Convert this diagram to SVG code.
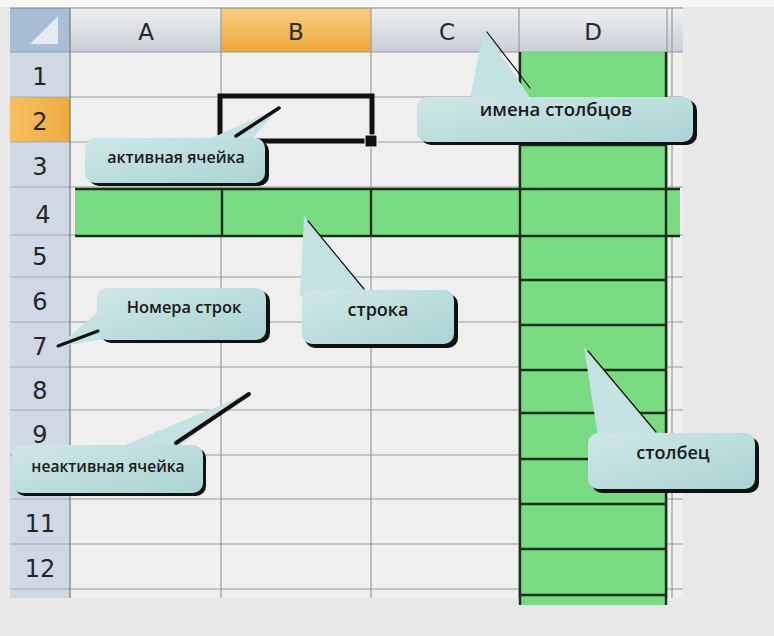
<svg xmlns="http://www.w3.org/2000/svg" width="774" height="636" viewBox="0 0 774 636">
<defs>
<linearGradient id="hdr" x1="0" y1="0" x2="0" y2="1"><stop offset="0" stop-color="#eef0f3"/><stop offset="1" stop-color="#c9ced6"/></linearGradient>
<linearGradient id="hdrSel" x1="0" y1="0" x2="0" y2="1"><stop offset="0" stop-color="#f8cf80"/><stop offset="1" stop-color="#eea93c"/></linearGradient>
<linearGradient id="rowSel" x1="0" y1="0" x2="1" y2="0"><stop offset="0" stop-color="#f6c060"/><stop offset="1" stop-color="#efaa40"/></linearGradient>
<linearGradient id="call" x1="0" y1="0" x2="1" y2="1"><stop offset="0" stop-color="#cfe7e6"/><stop offset="1" stop-color="#aad4d4"/></linearGradient>
<style>
.grid{stroke:#9a9a9a;stroke-width:1.2;fill:none}
.rh{stroke:#9eabbb;stroke-width:1.2}
.dk{stroke:#1b2d1b;stroke-width:2.4;fill:none}
.num{font-family:"DejaVu Sans","Liberation Sans",sans-serif;font-size:24px;fill:#262626;text-anchor:middle}
.col{font-family:"DejaVu Sans","Liberation Sans",sans-serif;font-size:23px;fill:#2a2a2a;text-anchor:middle}
.lbl{font-family:"Open Sans","DejaVu Sans",sans-serif;font-weight:600;fill:#1a1a1a;text-anchor:middle}
.shadow{fill:#111}
.body{fill:url(#call)}
.ptr{fill:#c3e2e1}
.pl{stroke:#111;fill:none;stroke-linecap:round}
</style>
</defs>
<rect width="774" height="636" fill="#e8e8e8"/>
<rect width="774" height="7" fill="#f6f6f6"/>
<g id="sheet">
<rect x="70" y="52" width="613" height="546" fill="#efefef"/>
<rect x="10" y="8" width="673" height="44" fill="url(#hdr)"/>
<rect x="221" y="8" width="150" height="44" fill="url(#hdrSel)"/>
<rect x="10" y="8" width="60" height="44" fill="#a9bdd6"/>
<polygon points="58,16 58,44 30,44" fill="#e4ebf3"/>
<rect x="10" y="52" width="60" height="546" fill="#cfd9e5"/>
<rect x="10" y="97" width="60" height="45" fill="url(#rowSel)"/>
<g class="rh">
<line x1="10" y1="97" x2="70" y2="97"/><line x1="10" y1="142" x2="70" y2="142"/><line x1="10" y1="187" x2="70" y2="187"/><line x1="10" y1="235" x2="70" y2="235"/><line x1="10" y1="277" x2="70" y2="277"/><line x1="10" y1="322" x2="70" y2="322"/><line x1="10" y1="367" x2="70" y2="367"/><line x1="10" y1="410" x2="70" y2="410"/><line x1="10" y1="455" x2="70" y2="455"/><line x1="10" y1="499" x2="70" y2="499"/><line x1="10" y1="544" x2="70" y2="544"/><line x1="10" y1="589" x2="70" y2="589"/>
</g>
<g class="grid">
<line x1="10" y1="8" x2="683" y2="8" stroke="#888"/>
<line x1="10" y1="52" x2="683" y2="52"/>
<line x1="70" y1="97" x2="683" y2="97"/><line x1="70" y1="142" x2="683" y2="142"/><line x1="70" y1="187" x2="683" y2="187"/><line x1="70" y1="235" x2="683" y2="235"/><line x1="70" y1="277" x2="683" y2="277"/><line x1="70" y1="322" x2="683" y2="322"/><line x1="70" y1="367" x2="683" y2="367"/><line x1="70" y1="410" x2="683" y2="410"/><line x1="70" y1="455" x2="683" y2="455"/><line x1="70" y1="499" x2="683" y2="499"/><line x1="70" y1="544" x2="683" y2="544"/><line x1="70" y1="589" x2="683" y2="589"/>
<line x1="70" y1="8" x2="70" y2="598" stroke="#777"/>
<line x1="221" y1="8" x2="221" y2="598"/>
<line x1="371" y1="8" x2="371" y2="598"/>
<line x1="519" y1="8" x2="519" y2="598"/>
<line x1="667" y1="8" x2="667" y2="598"/>
<line x1="672" y1="8" x2="672" y2="598"/>
</g>
<text class="col" x="146" y="40">A</text>
<text class="col" x="296" y="40">B</text>
<text class="col" x="447" y="40">C</text>
<text class="col" x="593" y="40">D</text>
<text class="num" x="40" y="85">1</text>
<text class="num" x="40" y="130">2</text>
<text class="num" x="40" y="175">3</text>
<text class="num" x="43" y="223" font-size="26">4</text>
<text class="num" x="40" y="265">5</text>
<text class="num" x="40" y="310">6</text>
<text class="num" x="40" y="355">7</text>
<text class="num" x="40" y="399">8</text>
<text class="num" x="40" y="443">9</text>
<text class="num" x="40" y="532">11</text>
<text class="num" x="40" y="577">12</text>
</g>
<g id="columnD">
<rect x="519" y="52" width="148" height="553" fill="#78db82"/>
<g class="dk">
<line x1="520" y1="52" x2="520" y2="605"/><line x1="666" y1="52" x2="666" y2="605"/>
<line x1="519" y1="100" x2="667" y2="100"/><line x1="519" y1="145" x2="667" y2="145"/><line x1="519" y1="280" x2="667" y2="280"/><line x1="519" y1="325" x2="667" y2="325"/><line x1="519" y1="370" x2="667" y2="370"/><line x1="519" y1="413" x2="667" y2="413"/><line x1="519" y1="459" x2="667" y2="459"/><line x1="519" y1="504" x2="667" y2="504"/><line x1="519" y1="549" x2="667" y2="549"/><line x1="519" y1="595" x2="667" y2="595"/>
</g>
</g>
<g id="row4">
<rect x="75" y="189" width="605" height="47" fill="#78db82"/>
<g class="dk">
<line x1="75" y1="189" x2="680" y2="189"/><line x1="75" y1="236" x2="680" y2="236"/>
<line x1="222" y1="189" x2="222" y2="236"/><line x1="371" y1="189" x2="371" y2="236"/><line x1="520" y1="189" x2="520" y2="236"/><line x1="666" y1="189" x2="666" y2="236"/>
</g>
</g>
<g id="active-cell">
<rect x="220" y="96" width="152" height="45" fill="none" stroke="#111" stroke-width="5"/>
<rect x="365" y="135" width="12" height="12" fill="#111" stroke="#fff" stroke-width="1"/>
</g>
<g id="callout-active">
<rect class="shadow" x="89" y="141" width="180" height="45" rx="10"/>
<polygon class="ptr" points="205,141 280,107 250,141"/>
<rect class="body" x="85" y="138" width="180" height="45" rx="10"/>
<line class="pl" x1="236" y1="136" x2="279" y2="108" stroke-width="3.5"/>
<text class="lbl" x="176" y="163" font-size="16">активная ячейка</text>
</g>
<g id="callout-colnames">
<rect class="shadow" x="421" y="100" width="276" height="45" rx="10"/>
<polygon class="ptr" points="470,99 484,29 531,99"/>
<rect class="body" x="417" y="97" width="276" height="45" rx="10"/>
<line class="pl" x1="487" y1="32" x2="530" y2="88" stroke-width="1.2"/>
<text class="lbl" x="556" y="116" font-size="18.5">имена столбцов</text>
</g>
<g id="callout-row">
<rect class="shadow" x="305" y="294" width="153" height="54" rx="10"/>
<polygon class="ptr" points="300,296 304,216 370,296"/>
<rect class="body" x="302" y="290" width="152" height="54" rx="10"/>
<line class="pl" x1="308" y1="221" x2="364" y2="289" stroke-width="1.2"/>
<text class="lbl" x="378" y="316" font-size="18">строка</text>
</g>
<g id="callout-rownums">
<rect class="shadow" x="101" y="291" width="169" height="52" rx="10"/>
<polygon class="ptr" points="100,310 57,347 110,338"/>
<rect class="body" x="97" y="288" width="169" height="52" rx="10"/>
<line class="pl" x1="58" y1="346" x2="98" y2="331" stroke-width="3"/>
<text class="lbl" x="184" y="313" font-size="16.4">Номера строк</text>
</g>
<g id="callout-inactive">
<rect class="shadow" x="15" y="448" width="191" height="48" rx="10"/>
<polygon class="ptr" points="120,447 250,393 178,447"/>
<rect class="body" x="12" y="445" width="191" height="48" rx="10"/>
<line class="pl" x1="176" y1="443" x2="249" y2="394" stroke-width="4"/>
<text class="lbl" x="108" y="472" font-size="15.6">неактивная ячейка</text>
</g>
<g id="callout-column">
<rect class="shadow" x="592" y="437" width="167" height="56" rx="10"/>
<polygon class="ptr" points="598,437 584,347 660,437"/>
<rect class="body" x="588" y="433" width="167" height="56" rx="10"/>
<line class="pl" x1="588" y1="351" x2="656" y2="432" stroke-width="1.2"/>
<text class="lbl" x="673" y="459" font-size="18">столбец</text>
</g>
</svg>
